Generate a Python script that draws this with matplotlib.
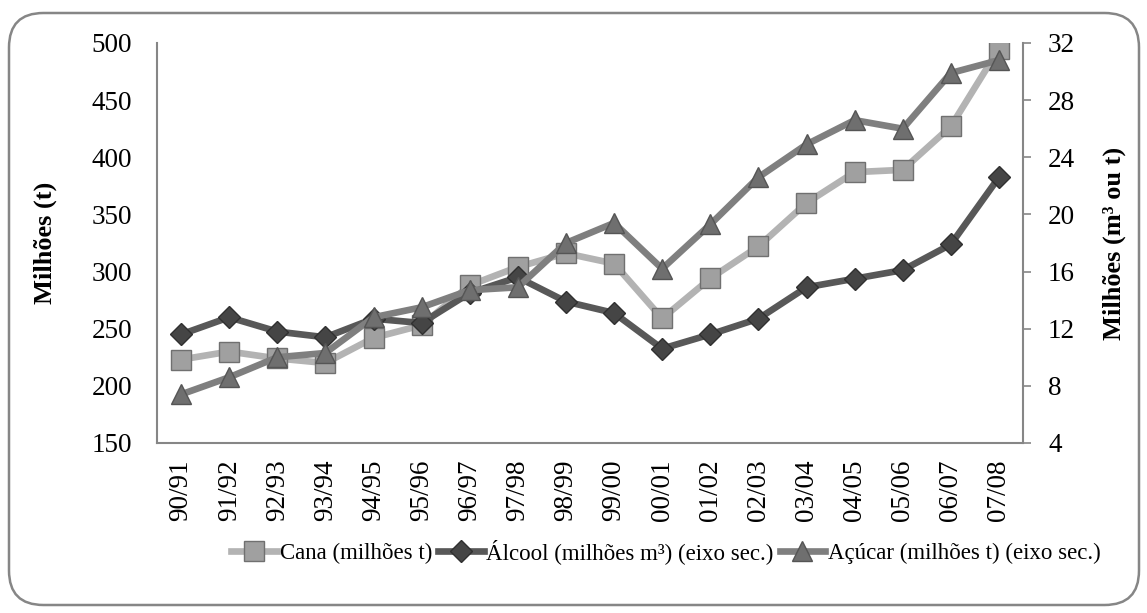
import numpy as np
import matplotlib.pyplot as plt
from matplotlib.patches import FancyBboxPatch

# dados
safras = ['90/91', '91/92', '92/93', '93/94', '94/95', '95/96', '96/97', '97/98', '98/99',
          '99/00', '00/01', '01/02', '02/03', '03/04', '04/05', '05/06', '06/07', '07/08']
cana = [223, 230, 224, 220, 242, 253, 288, 304, 316, 307, 259, 294, 322, 360, 387, 389, 427, 495]
alcool = [11.6, 12.8, 11.8, 11.4, 12.7, 12.4, 14.5, 15.6, 13.9, 13.1, 10.6, 11.6, 12.7, 14.9,
          15.5, 16.1, 17.9, 22.6]
acucar = [7.4, 8.6, 10.0, 10.3, 12.8, 13.5, 14.7, 14.9, 18.0, 19.4, 16.2, 19.3, 22.6, 24.9,
          26.6, 26.0, 29.9, 30.8]

plt.rcParams['font.family'] = ['Liberation Serif', 'DejaVu Serif']
fs = 19.5

fig = plt.figure(figsize=(11.47, 6.13), dpi=100)
ax = fig.add_axes([157 / 1147, 1 - 443 / 613, (1023 - 157) / 1147, 400 / 613])
ax2 = ax.twinx()

x = np.arange(len(safras))

l1, = ax.plot(x, cana, color='#b3b3b3', lw=4.8, marker='s', ms=14,
              mfc='#a0a0a0', mec='#707070', mew=1, label='Cana (milhões t)', zorder=3)
l2, = ax2.plot(x, alcool, color='#585858', lw=4.8, marker='D', ms=11,
               mfc='#454545', mec='#303030', mew=1, label='Álcool (milhões m³) (eixo sec.)', zorder=3)
l3, = ax2.plot(x, acucar, color='#7f7f7f', lw=4.8, marker='^', ms=15,
               mfc='#6f6f6f', mec='#555555', mew=1, label='Açúcar (milhões t) (eixo sec.)', zorder=4)

ax.set_xlim(-0.5, len(safras) - 0.5)
ax.set_ylim(150, 500)
ax.set_yticks(range(150, 501, 50))
ax2.set_ylim(4, 32)
ax2.set_yticks(range(4, 33, 4))

ax.set_xticks(x)
ax.set_xticklabels(safras, rotation=90, fontsize=fs)
ax.tick_params(axis='x', length=0, pad=12)
ax.tick_params(axis='y', length=0, pad=18, labelsize=fs)
ax2.tick_params(axis='y', length=6, width=1.2, color='#868686', pad=12, labelsize=fs)

for a in (ax, ax2):
    for s in a.spines.values():
        s.set_visible(False)
ax.spines['left'].set_visible(True)
ax.spines['bottom'].set_visible(True)
ax2.spines['right'].set_visible(True)
for s in (ax.spines['left'], ax.spines['bottom'], ax2.spines['right']):
    s.set_color('#868686')
    s.set_linewidth(1.5)

ax.set_ylabel('Milhões (t)', fontsize=19, fontweight='bold')
ax2.set_ylabel('Milhões (m³ ou t)', fontsize=19, fontweight='bold', rotation=90)
ax.yaxis.set_label_coords((57 - 157) / 866, 0.5)
ax2.yaxis.set_label_coords((1103 - 157) / 866, 0.5)

fig.legend(handles=[l1, l2, l3], loc='center', bbox_to_anchor=(666 / 1147, 1 - 552 / 613),
           ncol=3, frameon=False, fontsize=16.5, handlelength=2.0, handletextpad=0.12,
           columnspacing=0.25, borderaxespad=0)

# moldura arredondada
frame = FancyBboxPatch((9 / 1147, 8 / 613), 1130 / 1147, 592 / 613,
                       boxstyle='round,pad=0,rounding_size=0.03',
                       transform=fig.transFigure, fill=False, ec='#868686', lw=1.8,
                       mutation_aspect=1147 / 613)
fig.patches.append(frame)

fig.savefig('out.png', dpi=100)
